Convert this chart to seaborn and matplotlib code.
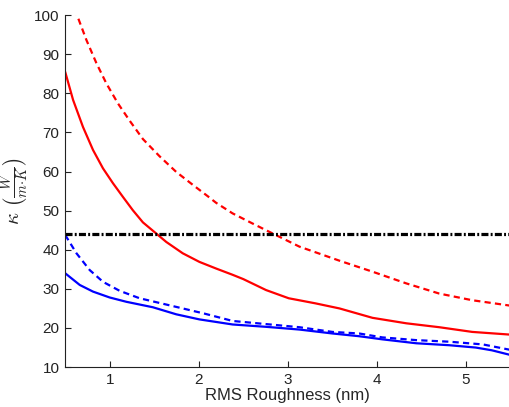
import matplotlib
matplotlib.use("Agg")
import matplotlib.pyplot as plt
import seaborn as sns

# Data
red_solid_x = [0.5, 0.589, 0.70, 0.813, 0.925, 1.037, 1.149, 1.26, 1.373, 1.52, 1.635, 1.82, 2.007,
               2.195, 2.38, 2.5, 2.755, 3.01, 3.31, 3.58, 3.95, 4.33, 4.7, 5.07, 5.44, 5.5]
red_solid_y = [85.5, 78.3, 71.4, 65.5, 60.8, 57.0, 53.5, 50.1, 47.0, 44.2, 42.0, 39.1, 36.9,
               35.2, 33.6, 32.5, 29.7, 27.6, 26.3, 25.0, 22.6, 21.2, 20.2, 19.0, 18.4, 18.3]

red_dash_x = [0.5, 0.633, 0.739, 0.851, 0.963, 1.093, 1.224, 1.373, 1.56, 1.747, 1.933, 2.1, 2.195,
              2.38, 2.605, 2.755, 3.13, 3.58, 3.95, 4.33, 4.7, 5.07, 5.44, 5.5]
red_dash_y = [109.0, 100.0, 93.6, 87.7, 82.5, 77.4, 73.0, 68.3, 63.9, 59.9, 56.6, 53.7, 52.0,
              49.3, 46.7, 45.0, 40.8, 37.2, 34.4, 31.4, 28.8, 27.1, 25.9, 25.7]

blue_solid_x = [0.5, 0.664, 0.813, 1.0, 1.187, 1.485, 1.747, 2.007, 2.38, 2.755, 3.13, 3.5, 3.8,
                4.06, 4.44, 4.81, 5.11, 5.29, 5.5]
blue_solid_y = [34.0, 31.0, 29.3, 27.8, 26.7, 25.3, 23.5, 22.2, 20.9, 20.3, 19.6, 18.6, 17.9,
                17.1, 16.1, 15.6, 15.0, 14.3, 13.1]

blue_dash_x = [0.5, 0.627, 0.776, 0.925, 1.112, 1.336, 1.56, 1.82, 2.06, 2.38, 2.755, 3.13, 3.5,
               3.8, 4.06, 4.44, 4.81, 5.19, 5.5]
blue_dash_y = [43.8, 39.1, 34.8, 31.8, 29.5, 27.6, 26.4, 25.0, 23.7, 21.8, 21.0, 20.2, 19.0,
               18.6, 17.6, 16.9, 16.5, 15.8, 14.4]

ref_x = [0.5, 5.5]
ref_y = [44.0, 44.0]

x_ticks = [1, 2, 3, 4, 5]
y_ticks = [10, 20, 30, 40, 50, 60, 70, 80, 90, 100]

sns.set_style("white")
plt.rcParams['font.family'] = ['Liberation Sans', 'DejaVu Sans']
plt.rcParams['mathtext.fontset'] = 'cm'

fig = plt.figure(figsize=(5.09, 4.07), dpi=100)
ax = fig.add_axes([0.128, 0.098, 0.875, 0.865])

dash = (0, (2.8, 1.9))
sns.lineplot(x=red_dash_x, y=red_dash_y, ax=ax, color='#ff0000', lw=1.6, linestyle=dash)
sns.lineplot(x=red_solid_x, y=red_solid_y, ax=ax, color='#ff0000', lw=1.6)
sns.lineplot(x=blue_dash_x, y=blue_dash_y, ax=ax, color='#0000ff', lw=1.6, linestyle=dash)
sns.lineplot(x=blue_solid_x, y=blue_solid_y, ax=ax, color='#0000ff', lw=1.6)
sns.lineplot(x=ref_x, y=ref_y, ax=ax, color='black', lw=2.3, linestyle=(0, (2.2, 0.7, 0.6, 0.7)))

ax.set_xlim(0.5, 5.5)
ax.set_ylim(10, 100)
ax.set_xticks(x_ticks)
ax.set_yticks(y_ticks)
ax.set_xticklabels([str(t) for t in x_ticks], fontsize=11)
ax.set_yticklabels([str(t) for t in y_ticks], fontsize=11)
ax.tick_params(axis='both', direction='in', length=4, width=0.8, colors='#222222', left=True, bottom=True, pad=4)
for s in ['top', 'right']:
    ax.spines[s].set_visible(False)
for s in ['left', 'bottom']:
    ax.spines[s].set_color('#222222')
    ax.spines[s].set_linewidth(0.8)

ax.set_xlabel('RMS Roughness (nm)', fontsize=12, labelpad=1)
ax.set_ylabel(r'$\kappa\ \left(\frac{W}{m{\cdot}K}\right)$', fontsize=15, labelpad=2)

fig.savefig('out.png', dpi=100)
